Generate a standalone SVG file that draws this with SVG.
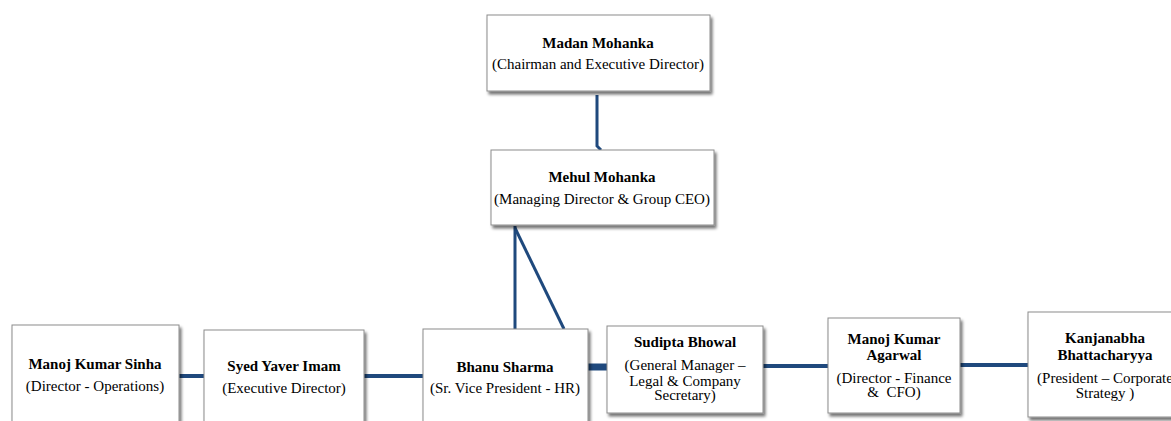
<svg xmlns="http://www.w3.org/2000/svg" width="1171" height="421" viewBox="0 0 1171 421">
<defs>
<filter id="sh" x="-10%" y="-10%" width="130%" height="130%">
<feGaussianBlur in="SourceAlpha" stdDeviation="1.5"/>
<feOffset dx="2" dy="3" result="b"/>
<feComponentTransfer><feFuncA type="linear" slope="0.55"/></feComponentTransfer>
<feMerge><feMergeNode/><feMergeNode in="SourceGraphic"/></feMerge>
</filter>
<style>
.box{fill:#fff;stroke:#8c8c8c;stroke-width:1;filter:url(#sh)}
text{font-family:'Liberation Serif','DejaVu Serif',serif;font-size:15px;fill:#000;text-anchor:middle}
.n{font-weight:bold}
.c{stroke:#1f497d;fill:none}
</style>
</defs>
<rect width="1171" height="421" fill="#fff"/>
<g id="connectors">
<path class="c" stroke-width="3" d="M597,95 V146 L601,150"/>
<path class="c" stroke-width="3" d="M515,226 V329"/>
<path class="c" stroke-width="3" d="M515,228 L564,329"/>
<path class="c" stroke-width="4" d="M179,376 H204"/>
<path class="c" stroke-width="4" d="M364,376 H423"/>
<path class="c" stroke-width="7" d="M588,367 H607"/>
<path class="c" stroke-width="4" d="M763,366 H828"/>
<path class="c" stroke-width="4" d="M960,365 H1028"/>
</g>
<g id="madan">
<rect class="box" x="487" y="15" width="223" height="76"/>
<text class="n" x="598" y="48">Madan Mohanka</text>
<text x="598" y="69">(Chairman and Executive Director)</text>
</g>
<g id="mehul">
<rect class="box" x="491" y="150" width="223" height="75"/>
<text class="n" x="602" y="182">Mehul Mohanka</text>
<text x="602" y="204">(Managing Director &amp; Group CEO)</text>
</g>
<g id="sinha">
<rect class="box" x="12" y="325" width="167" height="110"/>
<text class="n" x="95" y="369">Manoj Kumar Sinha</text>
<text x="95" y="391">(Director - Operations)</text>
</g>
<g id="syed">
<rect class="box" x="204" y="330" width="160" height="105"/>
<text class="n" x="284" y="371">Syed Yaver Imam</text>
<text x="284" y="393">(Executive Director)</text>
</g>
<g id="bhanu">
<rect class="box" x="423" y="329" width="165" height="105"/>
<text class="n" x="505" y="372">Bhanu Sharma</text>
<text x="505" y="393">(Sr. Vice President - HR)</text>
</g>
<g id="sudipta">
<rect class="box" x="607" y="326" width="156" height="87"/>
<text class="n" x="685" y="347">Sudipta Bhowal</text>
<text x="685" y="370">(General Manager –</text>
<text x="685" y="386">Legal &amp; Company</text>
<text x="685" y="400">Secretary)</text>
</g>
<g id="agarwal">
<rect class="box" x="828" y="318" width="132" height="95"/>
<text class="n" x="894" y="344">Manoj Kumar</text>
<text class="n" x="894" y="360">Agarwal</text>
<text x="894" y="383">(Director - Finance</text>
<text x="894" y="397">&amp;&#160; CFO)</text>
</g>
<g id="kanjanabha">
<rect class="box" x="1028" y="312" width="160" height="105"/>
<text class="n" x="1105" y="343">Kanjanabha</text>
<text class="n" x="1105" y="360">Bhattacharyya</text>
<text x="1105" y="383">(President – Corporate</text>
<text x="1105" y="398">Strategy )</text>
</g>
</svg>
